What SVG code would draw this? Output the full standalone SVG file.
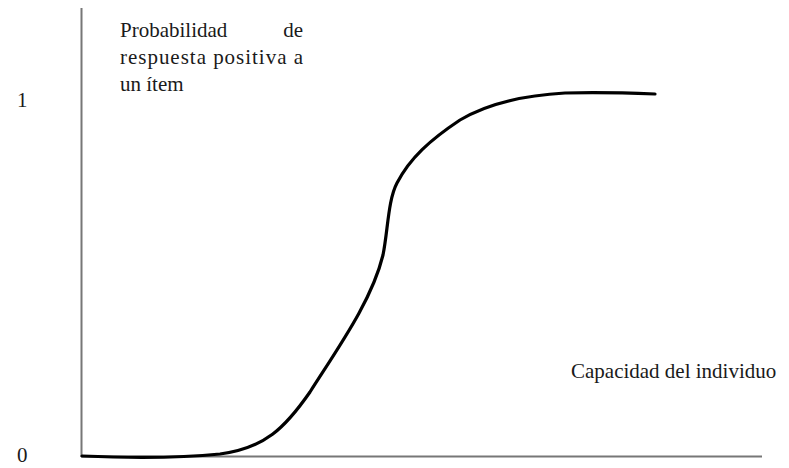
<svg xmlns="http://www.w3.org/2000/svg" width="789" height="468" viewBox="0 0 789 468">
<style>
.t{font-family:"Liberation Serif","Times New Roman",serif;font-size:21px;fill:#1a1a1a}
.ax{stroke:#777;stroke-width:2;fill:none}
.cv{stroke:#000;stroke-width:3.2;fill:none;stroke-linecap:round;stroke-linejoin:round}
</style>
<rect width="789" height="468" fill="#fff"/>
<g id="axes">
<line class="ax" x1="81.5" y1="8" x2="81.5" y2="457"/>
<line class="ax" x1="81" y1="456.5" x2="762" y2="456.5"/>
</g>
<g id="curve">
<path class="cv" d="M82,456 C130,458 180,458 220,454 C265,448 285,428 310,392 C340,345 372,300 383,255 C388,230 388,200 397,183 C410,158 430,140 460,120 C490,102 530,95 565,93 C600,92 630,93 655,94"/>
</g>
<g id="labels">
<text class="t" x="17" y="107">1</text>
<text class="t" x="17" y="462">0</text>
<text class="t" x="120" y="37">Probabilidad</text>
<text class="t" x="303" y="37" text-anchor="end">de</text>
<text class="t" x="120" y="64" textLength="183" lengthAdjust="spacing">respuesta positiva a</text>
<text class="t" x="120" y="91">un ítem</text>
<text class="t" x="571" y="378">Capacidad del individuo</text>
</g>
</svg>
